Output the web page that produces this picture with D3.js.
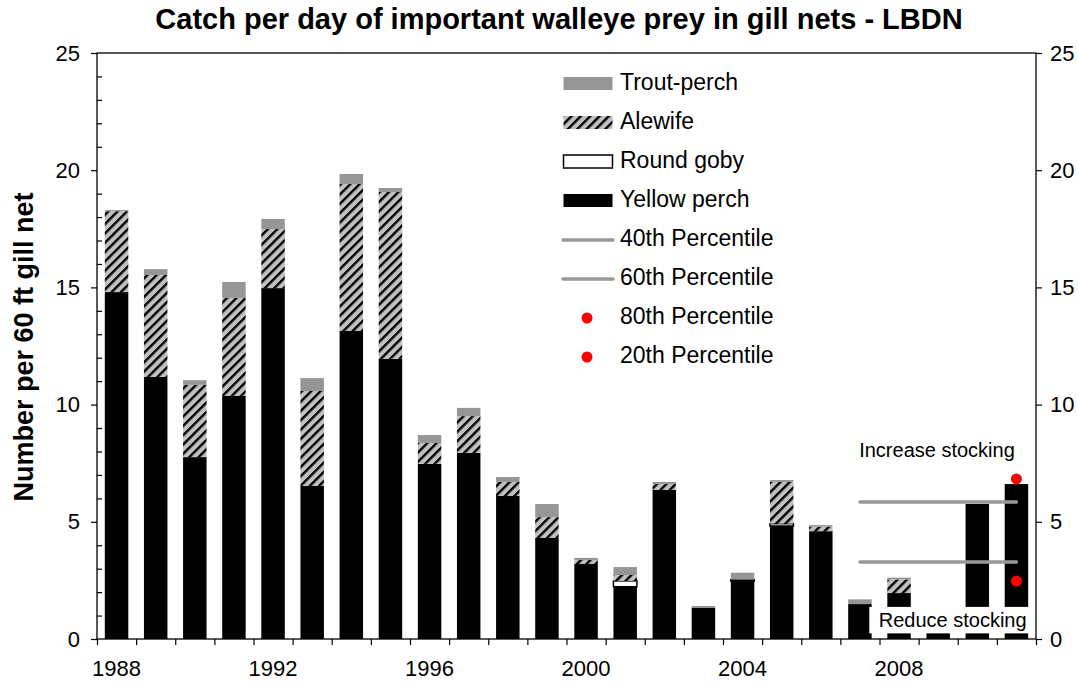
<!DOCTYPE html>
<html>
<head>
<meta charset="utf-8">
<script src="https://cdn.jsdelivr.net/npm/d3@7"></script>
<style>
  body { margin: 0; background: #fff; }
  svg text { font-family: Arial, 'Liberation Sans', sans-serif; fill: #000; }
</style>
</head>
<body>
<div id="chart"></div>
<script>
// catch per day, stacked from the bottom up
const years = ['1988', '1989', '1990', '1991', '1992', '1993', '1994', '1995',
  '1996', '1997', '1998', '1999', '2000', '2001', '2002', '2003', '2004',
  '2005', '2006', '2007', '2008', '2009', '2010', '2011'];
const yellowPerch = [14.8, 11.18, 7.76, 10.37, 14.97, 6.53, 13.14, 11.95,
  7.47, 7.94, 6.1, 4.31, 3.2, 2.23, 6.36, 1.34, 2.47, 4.82, 4.6, 1.49,
  1.96, 1.0, 5.76, 6.61];
const roundGoby = [0, 0, 0, 0, 0, 0, 0, 0, 0, 0, 0, 0, 0, 0.25, 0, 0, 0.06,
  0.1, 0, 0, 0, 0, 0, 0];
const alewife = [3.45, 4.35, 3.08, 4.18, 2.52, 4.05, 6.27, 7.12, 0.89, 1.57,
  0.6, 0.89, 0.17, 0.25, 0.25, 0, 0, 1.78, 0.19, 0, 0.58, 0, 0, 0];
const troutPerch = [0.05, 0.25, 0.2, 0.68, 0.43, 0.55, 0.43, 0.17, 0.34,
  0.35, 0.21, 0.56, 0.09, 0.34, 0.09, 0.07, 0.3, 0.08, 0.07, 0.2, 0.08, 0,
  0, 0];

// stocking guide lines
const pctYears = ['2007', '2008', '2009', '2010', '2011'];
const pct40 = [3.28, 3.28, 3.28, 3.28, 3.28];
const pct60 = [5.84, 5.84, 5.84, 5.84, 5.84];
const pct80Year = ['2011'];
const pct80 = [6.83];
const pct20 = [2.47];

const yTicks = [0, 5, 10, 15, 20, 25];
const yMinor = [1, 2, 3, 4, 6, 7, 8, 9, 11, 12, 13, 14, 16, 17, 18, 19, 21, 22, 23, 24];
const xLabels = ['1988', '1992', '1996', '2000', '2004', '2008'];

const margin = { top: 53, right: 42, bottom: 49, left: 97 };
const width = 1078;
const height = 688;
const innerWidth = width - margin.left - margin.right;
const innerHeight = height - margin.top - margin.bottom;

const svg = d3.select('#chart').append('svg')
  .attr('width', width)
  .attr('height', height);

const defs = svg.append('defs');
const hatch = defs.append('pattern')
  .attr('id', 'hatch')
  .attr('patternUnits', 'userSpaceOnUse')
  .attr('width', 6.6)
  .attr('height', 6.6)
  .attr('patternTransform', 'rotate(45)');
hatch.append('rect').attr('width', 6.6).attr('height', 6.6).attr('fill', '#c0c0c0');
hatch.append('rect').attr('width', 2.4).attr('height', 6.6).attr('fill', '#000');

const g = svg.append('g')
  .attr('transform', `translate(${margin.left},${margin.top})`);

const x = d3.scaleBand()
  .domain(years)
  .range([0, innerWidth])
  .paddingInner(0.4)
  .paddingOuter(0.2);
const y = d3.scaleLinear().domain([0, 25]).range([innerHeight, 0]);

const rows = years.map((yr, i) => ({
  year: yr,
  yellow: yellowPerch[i],
  goby: roundGoby[i],
  alewife: alewife[i],
  trout: troutPerch[i],
}));
const keys = ['yellow', 'goby', 'alewife', 'trout'];
const fills = { yellow: '#000', goby: '#fff', alewife: 'url(#hatch)', trout: '#969696' };
const stack = d3.stack().keys(keys)(rows);

stack.forEach((layer) => {
  g.append('g')
    .selectAll('rect')
    .data(layer.filter((d) => d[1] - d[0] > 0))
    .enter()
    .append('rect')
    .attr('x', (d) => x(d.data.year))
    .attr('width', x.bandwidth())
    .attr('y', (d) => y(d[1]))
    .attr('height', (d) => y(d[0]) - y(d[1]))
    .attr('fill', fills[layer.key])
    .attr('stroke', layer.key === 'goby' ? '#000' : 'none')
    .attr('stroke-width', 1.5);
});

// frame
g.append('rect')
  .attr('width', innerWidth)
  .attr('height', innerHeight)
  .attr('fill', 'none')
  .attr('stroke', '#000')
  .attr('stroke-width', 1.3);

// percentile lines and dots
const cx = (yr) => x(yr) + x.bandwidth() / 2;
const line = d3.line().x((d) => cx(d[0])).y((d) => y(d[1]));
[pct40, pct60].forEach((vals) => {
  g.append('path')
    .attr('d', line(pctYears.map((yr, i) => [yr, vals[i]])))
    .attr('fill', 'none')
    .attr('stroke', '#999')
    .attr('stroke-width', 3.5)
    .attr('stroke-linecap', 'round');
});
[pct80, pct20].forEach((vals) => {
  g.selectAll(null)
    .data(vals)
    .enter()
    .append('circle')
    .attr('cx', (d, i) => cx(pct80Year[i]))
    .attr('cy', (d) => y(d))
    .attr('r', 5.5)
    .attr('fill', '#ff0000');
});

// annotations
const boxLeft = x('2008') - 18;
g.append('rect')
  .attr('x', boxLeft)
  .attr('y', y(1.37))
  .attr('width', innerWidth - 3 - boxLeft)
  .attr('height', y(0.24) - y(1.37))
  .attr('fill', '#fff');
g.append('text')
  .attr('x', (boxLeft + innerWidth) / 2)
  .attr('y', y(0.24) - 6)
  .attr('text-anchor', 'middle')
  .style('font-size', '20px')
  .text('Reduce stocking');
g.append('text')
  .attr('x', 840)
  .attr('y', y(7.75))
  .attr('text-anchor', 'middle')
  .style('font-size', '20px')
  .text('Increase stocking');

// axes
const yLeft = g.append('g')
  .call(d3.axisLeft(y).tickValues(yTicks).tickSize(6).tickPadding(11));
const yLeftMinor = g.append('g')
  .call(d3.axisRight(y).tickValues(yMinor).tickSize(5).tickFormat(''));
const yRight = g.append('g')
  .attr('transform', `translate(${innerWidth},0)`)
  .call(d3.axisRight(y).tickValues(yTicks).tickSize(6).tickPadding(8));
const xBounds = d3.scaleLinear().domain([0, years.length]).range([0, innerWidth]);
const xAxis = g.append('g')
  .attr('transform', `translate(0,${innerHeight})`)
  .call(d3.axisBottom(xBounds).ticks(years.length).tickSize(6).tickFormat(''));

[yLeft, yLeftMinor, yRight, xAxis].forEach((a) => {
  a.select('.domain').remove();
  a.selectAll('line').attr('stroke', '#000').attr('stroke-width', 1.2);
  a.selectAll('text').style('font-size', '22px').style('font-family', 'Arial, Liberation Sans, sans-serif');
});

g.append('g')
  .selectAll('text')
  .data(xLabels)
  .enter()
  .append('text')
  .attr('x', (d) => cx(d))
  .attr('y', innerHeight + 37)
  .attr('text-anchor', 'middle')
  .style('font-size', '22px')
  .text((d) => d);

// titles
svg.append('text')
  .attr('x', 559)
  .attr('y', 29)
  .attr('text-anchor', 'middle')
  .style('font-size', '29px')
  .style('font-weight', 'bold')
  .text('Catch per day of important walleye prey in gill nets - LBDN');

svg.append('text')
  .attr('transform', 'translate(33,347) rotate(-90)')
  .attr('text-anchor', 'middle')
  .style('font-size', '27px')
  .style('font-weight', 'bold')
  .text('Number per 60 ft gill net');

// legend
const legendData = [
  { label: 'Trout-perch', type: 'box', fill: '#969696' },
  { label: 'Alewife', type: 'box', fill: 'url(#hatch)' },
  { label: 'Round goby', type: 'box', fill: '#fff', stroke: '#000' },
  { label: 'Yellow perch', type: 'box', fill: '#000' },
  { label: '40th Percentile', type: 'line' },
  { label: '60th Percentile', type: 'line' },
  { label: '80th Percentile', type: 'dot' },
  { label: '20th Percentile', type: 'dot' },
];

const legendItems = svg.append('g')
  .attr('transform', 'translate(563,84)')
  .selectAll('g')
  .data(legendData)
  .enter()
  .append('g')
  .attr('transform', (d, i) => `translate(0, ${i * 39})`);

legendItems.filter((d) => d.type === 'box')
  .append('rect')
  .attr('x', 0.5)
  .attr('y', -7)
  .attr('width', 49)
  .attr('height', 13)
  .attr('fill', (d) => d.fill)
  .attr('stroke', (d) => d.stroke || 'none')
  .attr('stroke-width', 1.5);
legendItems.filter((d) => d.type === 'line')
  .append('line')
  .attr('x1', 0)
  .attr('x2', 50)
  .attr('stroke', '#999')
  .attr('stroke-width', 3.5)
  .attr('stroke-linecap', 'round');
legendItems.filter((d) => d.type === 'dot')
  .append('circle')
  .attr('cx', 24)
  .attr('r', 5.5)
  .attr('fill', '#ff0000');
legendItems.append('text')
  .attr('x', 57)
  .attr('y', 6)
  .style('font-size', '23px')
  .text((d) => d.label);
</script>
</body>
</html>
